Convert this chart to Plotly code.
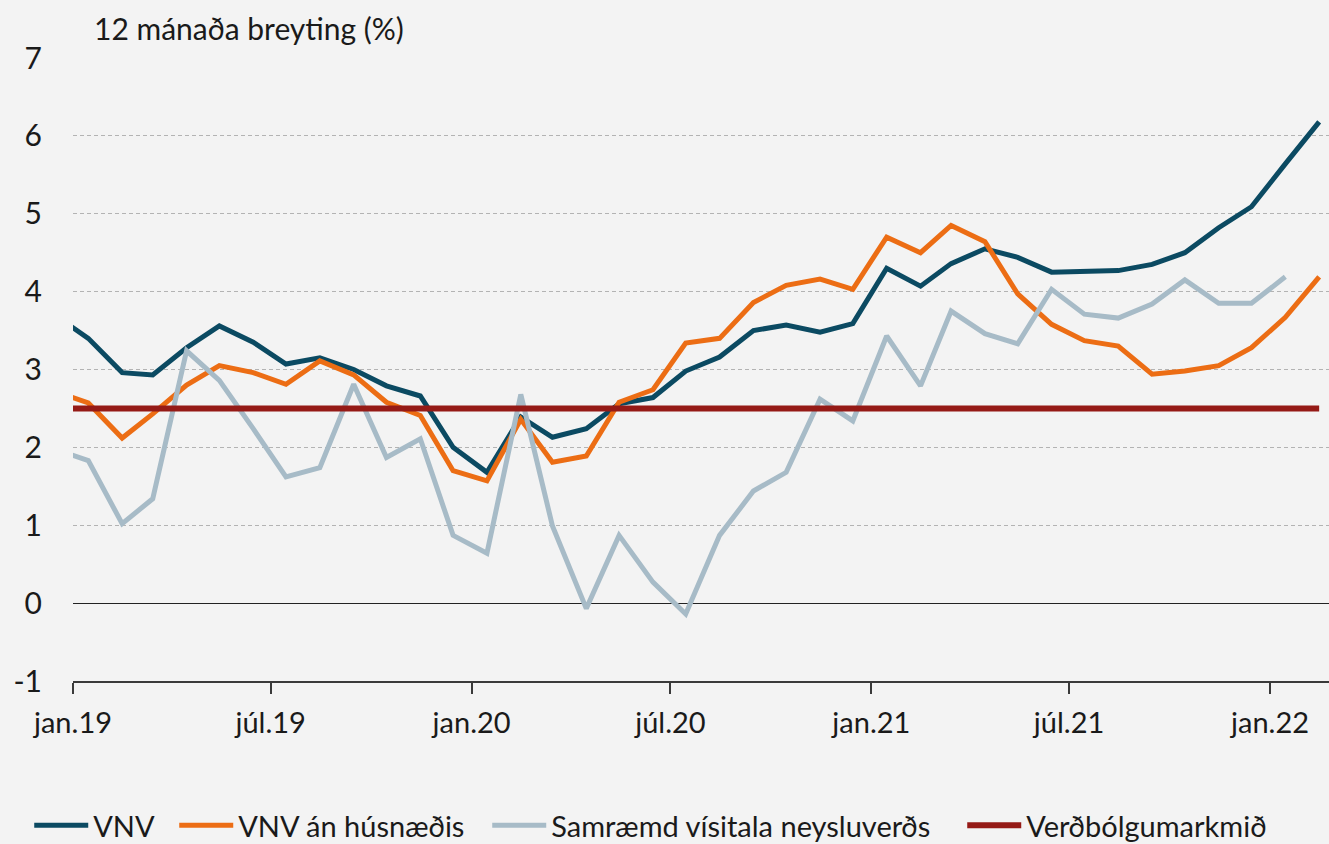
import pandas as pd
import plotly.graph_objects as go

# Monthly observations, Dec 2018 .. Feb 2022 (plotted at mid-month)
months = pd.date_range("2018-12-01", "2022-02-01", freq="MS") + pd.Timedelta(days=14)

vnv = [3.70,
       3.40, 2.96, 2.93, 3.28, 3.56, 3.35, 3.07, 3.15, 3.00, 2.79, 2.66, 2.00,
       1.68, 2.39, 2.13, 2.24, 2.56, 2.64, 2.98, 3.16, 3.50, 3.57, 3.48, 3.59,
       4.30, 4.07, 4.36, 4.55, 4.44, 4.25, 4.26, 4.27, 4.35, 4.50, 4.82, 5.09,
       5.64, 6.18]

vnv_an_husn = [2.72,
       2.57, 2.12, 2.43, 2.80, 3.05, 2.96, 2.81, 3.11, 2.93, 2.58, 2.41, 1.70,
       1.57, 2.36, 1.81, 1.89, 2.58, 2.74, 3.34, 3.40, 3.86, 4.08, 4.16, 4.03,
       4.70, 4.50, 4.85, 4.64, 3.97, 3.58, 3.37, 3.30, 2.94, 2.98, 3.05, 3.28,
       3.67, 4.19]

samraemd = [1.98,
       1.83, 1.02, 1.34, 3.24, 2.86, 2.24, 1.62, 1.74, 2.81, 1.87, 2.11, 0.87,
       0.64, 2.68, 0.99, -0.07, 0.87, 0.27, -0.14, 0.87, 1.44, 1.68, 2.62, 2.34,
       3.43, 2.79, 3.75, 3.46, 3.33, 4.03, 3.71, 3.66, 3.84, 4.15, 3.85, 3.85,
       4.19, None]

markmid = [2.5,
       2.5, 2.5, 2.5, 2.5, 2.5, 2.5, 2.5, 2.5, 2.5, 2.5, 2.5, 2.5,
       2.5, 2.5, 2.5, 2.5, 2.5, 2.5, 2.5, 2.5, 2.5, 2.5, 2.5, 2.5,
       2.5, 2.5, 2.5, 2.5, 2.5, 2.5, 2.5, 2.5, 2.5, 2.5, 2.5, 2.5,
       2.5, 2.5]

tick_dates = ["2019-01-01", "2019-07-01", "2020-01-01", "2020-07-01",
              "2021-01-01", "2021-07-01", "2022-01-01"]
tick_labels = ["jan.19", "júl.19", "jan.20", "júl.20", "jan.21", "júl.21", "jan.22"]

y_ticks = [-1, 0, 1, 2, 3, 4, 5, 6, 7]
y_labels = ["-1", "0", "1", "2", "3", "4", "5", "6", "7"]

series = [
    ("VNV", vnv, "#0b4a62", 5, 76),
    ("VNV án húsnæðis", vnv_an_husn, "#ec6d14", 5, 244),
    ("Samræmd vísitala neysluverðs", samraemd, "#a7bbc7", 5, 406),
    ("Verðbólgumarkmið", markmid, "#951a16", 6, 250),
]

FONT = "Lato, 'Open Sans', sans-serif"
TXT = "#1a1a1a"
FS = 30

fig = go.Figure()
for name, vals, col, w, lw in series:
    fig.add_trace(go.Scatter(
        x=months, y=vals, name=name, mode="lines",
        line=dict(color=col, width=w),
        connectgaps=False, legendwidth=lw,
    ))

fig.update_layout(
    width=1329, height=844,
    paper_bgcolor="#f3f3f3", plot_bgcolor="#f3f3f3",
    margin=dict(l=73, r=0, t=58, b=163),
    font=dict(family=FONT, size=FS, color=TXT),
    showlegend=True,
    legend=dict(orientation="h", xref="container", yref="container",
                x=0.022, xanchor="left", y=0.022, yanchor="middle",
                font=dict(size=29, color=TXT), bgcolor="rgba(0,0,0,0)",
                itemwidth=54, tracegroupgap=0),
    annotations=[dict(text="12 mánaða breyting (%)", xref="paper", yref="paper",
                      x=0.015, y=1.0, xanchor="left", yanchor="bottom", yshift=10,
                      showarrow=False, font=dict(size=FS, color=TXT))],
)

fig.update_xaxes(
    range=["2019-01-01", "2022-02-24"],
    tickmode="array", tickvals=tick_dates, ticktext=tick_labels,
    showgrid=False, zeroline=False,
    showline=True, linecolor="#3a3a3a", linewidth=1.5,
    ticks="outside", ticklen=11, tickcolor="#3a3a3a", tickwidth=1.5,
    tickfont=dict(size=FS - 1, color=TXT), ticklabelstandoff=4,
)

fig.update_yaxes(
    range=[-1, 7], tickmode="array", tickvals=y_ticks, ticktext=y_labels,
    showgrid=True, gridcolor="#b3b3b3", gridwidth=1, griddash="4px,3px",
    zeroline=True, zerolinecolor="#222222", zerolinewidth=1.2,
    showline=False, ticks="", tickfont=dict(size=FS, color=TXT),
    ticklabelstandoff=30,
)

fig.write_html("out.html", config={"displayModeBar": False},
               post_script="document.body.style.margin='0px';")
